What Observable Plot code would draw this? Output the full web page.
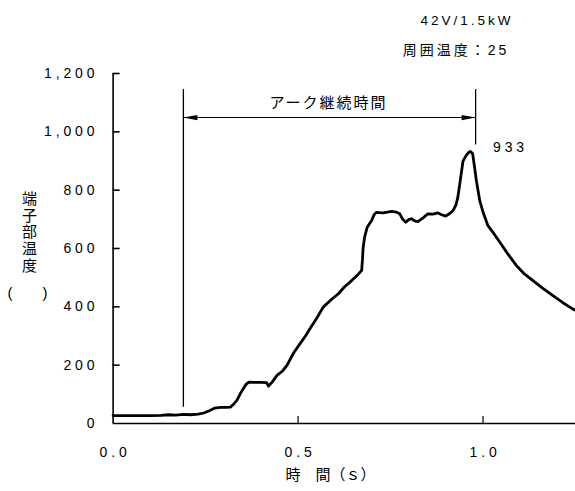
<!DOCTYPE html>
<html><head><meta charset="utf-8">
<script src="https://cdn.jsdelivr.net/npm/d3@7"></script>
<script src="https://cdn.jsdelivr.net/npm/@observablehq/plot@0.6"></script>
<style>
body{margin:0;background:#fff}
#chart svg{display:block}
</style>
</head><body><div id="chart"></div>
<script>
// time (s)
const timeS = [0, 0.05, 0.10, 0.13, 0.15, 0.17, 0.19, 0.21, 0.23, 0.245, 0.26, 0.275, 0.29, 0.305, 0.317, 0.325, 0.335, 0.345, 0.353, 0.36, 0.367, 0.38, 0.40, 0.415, 0.42, 0.43, 0.443, 0.458, 0.47, 0.487, 0.505, 0.52, 0.532, 0.55, 0.568, 0.59, 0.609, 0.625, 0.645, 0.66, 0.672, 0.674, 0.676, 0.68, 0.687, 0.693, 0.699, 0.705, 0.712, 0.73, 0.753, 0.765, 0.775, 0.783, 0.791, 0.80, 0.807, 0.815, 0.824, 0.838, 0.851, 0.865, 0.878, 0.89, 0.899, 0.91, 0.919, 0.927, 0.932, 0.937, 0.941, 0.946, 0.955, 0.962, 0.966, 0.972, 0.977, 0.982, 0.991, 1.00, 1.013, 1.03, 1.045, 1.065, 1.09, 1.11, 1.135, 1.16, 1.188, 1.215, 1.242, 1.25];
// terminal temperature
const tempC = [27, 27, 27, 28, 30, 29, 31, 30, 32, 36, 44, 53, 55, 55, 56, 65, 80, 105, 122, 135, 142, 141, 141, 140, 128, 142, 165, 180, 199, 240, 273, 300, 325, 360, 399, 425, 445, 468, 490, 508, 525, 560, 604, 640, 673, 685, 696, 715, 724, 722, 727, 725, 719, 700, 690, 700, 702, 695, 692, 705, 719, 718, 722, 715, 711, 720, 730, 750, 776, 820, 856, 900, 920, 930, 933, 925, 880, 833, 765, 725, 679, 650, 622, 585, 542, 515, 490, 465, 439, 415, 393, 388];

const xTicks = [0, 0.5, 1.0];
const yTicks = [0, 200, 400, 600, 800, 1000, 1200];
const xDomain = [0, 1.25];
const yDomain = [0, 1200];

// arc duration annotation
const arcTimes = [0.19, 0.98];
const arcLineTop = 1145;
const arcLineBottoms = [56, 955];
const arcArrowLevel = 1049;
const arcLabel = "アーク継続時間";

const peakTime = 0.966, peakTemp = 933;
const conditionLines = ["42V/1.5kW", "周囲温度：25"];
const yTitle = "端\n子\n部\n温\n度";
const yUnit = "(　　)";
const xTitle = "時　間（ｓ）";

const data = timeS.map((t, i) => ({t, v: tempC[i]}));
const fmtY = d3.format(",");
const fmtX = d => d.toFixed(1);

const headLeft = {draw(ctx) { ctx.moveTo(0, 0); ctx.lineTo(14, -2.6); ctx.lineTo(14, 2.6); ctx.closePath(); }};
const headRight = {draw(ctx) { ctx.moveTo(0, 0); ctx.lineTo(-14, -2.6); ctx.lineTo(-14, 2.6); ctx.closePath(); }};

const font = '"Liberation Sans", "Noto Sans CJK JP", sans-serif';
// inward tick length expressed in data units of the other axis
const tickLenX = 0.019, tickLenY = 24;

const T = {fill: "#000", textAnchor: "middle", lineAnchor: "middle"};

const chart = Plot.plot({
  width: 575, height: 491,
  marginLeft: 112.6, marginRight: 0, marginTop: 73, marginBottom: 68,
  style: {fontFamily: font, color: "#000", background: "#fff"},
  x: {domain: xDomain, axis: null},
  y: {domain: yDomain, axis: null},
  marks: [
    // axes lines
    Plot.ruleX([0], {y1: yDomain[0], y2: yDomain[1], stroke: "#000", strokeWidth: 1.6}),
    Plot.ruleY([0], {x1: xDomain[0], x2: xDomain[1], stroke: "#000", strokeWidth: 1.6}),
    // inward ticks
    Plot.ruleY(yTicks.filter(d => d > 0), {y: d => d, x1: 0, x2: tickLenX, stroke: "#000", strokeWidth: 1.6}),
    Plot.ruleX(xTicks.filter(d => d > 0), {x: d => d, y1: 0, y2: tickLenY, stroke: "#000", strokeWidth: 1.2}),
    // tick labels
    Plot.text(yTicks, {...T, x: 0, y: d => d, text: fmtY, textAnchor: "end", dx: -14.6, fontSize: 14}),
    Plot.text(xTicks, {...T, x: d => d, y: 0, text: fmtX, dx: 2, dy: 29, fontSize: 14}),
    // arc annotation
    Plot.ruleX(arcTimes, {x: d => d, y1: (d, i) => arcLineBottoms[i], y2: arcLineTop, stroke: "#000", strokeWidth: 1.3}),
    Plot.ruleY([arcArrowLevel], {x1: arcTimes[0], x2: arcTimes[1], stroke: "#000", strokeWidth: 1.1}),
    Plot.dot([arcTimes[0]], {x: d => d, y: arcArrowLevel, symbol: headLeft, fill: "#000", stroke: "none"}),
    Plot.dot([arcTimes[1]], {x: d => d, y: arcArrowLevel, symbol: headRight, fill: "#000", stroke: "none"}),
    Plot.text([arcLabel], {...T, x: (arcTimes[0] + arcTimes[1]) / 2, y: arcArrowLevel, text: d => d, dy: -14, dx: -1, fontSize: 15}),
    // data line
    Plot.line(data, {x: "t", y: "v", stroke: "#000", strokeWidth: 2.8, strokeLinejoin: "round"}),
    // peak label
    Plot.text([{t: peakTime, v: peakTemp}], {...T, x: "t", y: "v", text: d => String(d.v), textAnchor: "start", dx: 22.5, dy: -4, fontSize: 14}),
    // condition texts
    Plot.text([conditionLines[0]], {...T, frameAnchor: "top-left", text: d => d, dx: 354, dy: -53, fontSize: 13.5}),
    Plot.text([conditionLines[1]], {...T, frameAnchor: "top-left", text: d => d, dx: 343, dy: -23, fontSize: 14}),
    // axis titles
    Plot.text([yTitle], {...T, frameAnchor: "left", text: d => d, dx: -83.6, dy: -16.5, fontSize: 15, lineHeight: 1.12}),
    Plot.text([yUnit], {...T, frameAnchor: "left", text: d => d, dx: -85.6, dy: 45, fontSize: 15}),
    Plot.text([xTitle], {...T, frameAnchor: "bottom-left", text: d => d, dx: 217.4, dy: 52, fontSize: 15})
  ]
});
// letter spacing like the original typesetting
d3.select(chart).selectAll("text").each(function() {
  const s = this.textContent;
  let ls = null;
  if (/^[\d.,]+$/.test(s)) ls = "3.9px";
  else if (s === arcLabel) ls = "2px";
  else if (conditionLines.includes(s)) ls = "3px";
  if (ls) this.style.letterSpacing = ls;
});
document.getElementById("chart").appendChild(chart);
</script>
</body></html>
